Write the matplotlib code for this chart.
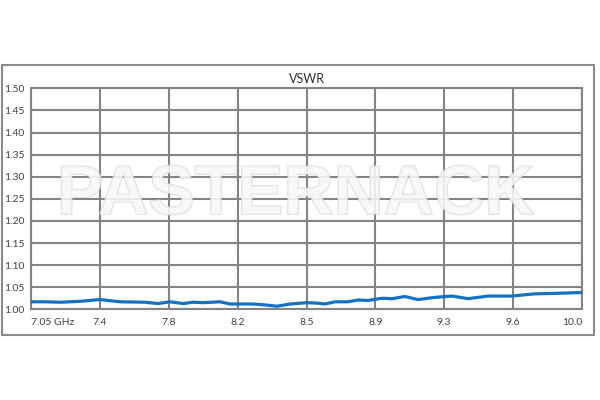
import numpy as np
import matplotlib
matplotlib.use("Agg")
import matplotlib.pyplot as plt
import matplotlib.patheffects as pe
from matplotlib.patches import Rectangle

# frequency (GHz) and VSWR
freq = [7.05, 7.125, 7.205, 7.312, 7.419, 7.527, 7.66, 7.73, 7.794, 7.864,
        7.917, 7.971, 8.062, 8.115, 8.239, 8.30, 8.367, 8.437, 8.528, 8.581,
        8.624, 8.678, 8.747, 8.801, 8.854, 8.929, 8.983, 9.052, 9.122, 9.213,
        9.304, 9.39, 9.497, 9.625, 9.748, 9.855, 10.0]
vswr = [1.017, 1.017, 1.016, 1.018, 1.022, 1.017, 1.016, 1.013, 1.017, 1.013,
        1.016, 1.015, 1.017, 1.012, 1.012, 1.010, 1.007, 1.012, 1.015, 1.014,
        1.012, 1.017, 1.017, 1.021, 1.020, 1.025, 1.024, 1.029, 1.022, 1.027,
        1.030, 1.024, 1.030, 1.030, 1.035, 1.036, 1.038]

x_labels = ["7.05 GHz", "7.4", "7.8", "8.2", "8.5", "8.9", "9.3", "9.6", "10.0"]
y_ticks = [1.00, 1.05, 1.10, 1.15, 1.20, 1.25, 1.30, 1.35, 1.40, 1.45, 1.50]

f_min, f_max = 7.05, 10.0
grid_col = "#848484"
txt_col = "#404040"

plt.rcParams["font.family"] = ["Lato", "DejaVu Sans"]

fig = plt.figure(figsize=(6, 4), dpi=100)
fig.patches.append(Rectangle((2 / 600, 1 - 335 / 400), 592 / 600, 270 / 400,
                             transform=fig.transFigure, fill=False,
                             edgecolor="#8a8a8a", linewidth=1.5))

ax = fig.add_axes([31 / 600, 1 - 309.3 / 400, 551 / 600, 221 / 400])
ax.plot(freq, vswr, color="#1372c4", linewidth=2.3, solid_joinstyle="round",
        solid_capstyle="round", zorder=3)

x_ticks = np.linspace(f_min, f_max, len(x_labels))
ax.set_xlim(f_min, f_max)
ax.set_ylim(1.0, 1.5)
ax.set_xticks(x_ticks)
ax.set_xticklabels(x_labels)
ax.set_yticks(y_ticks)
ax.set_yticklabels(["%.2f" % v for v in y_ticks])
ax.grid(True, color=grid_col, linewidth=1.5)
ax.set_axisbelow(True)
for s in ax.spines.values():
    s.set_color(grid_col)
    s.set_linewidth(1.5)

ax.tick_params(axis="both", length=0, labelsize=7.5, labelcolor=txt_col)
ax.tick_params(axis="x", pad=6)
ax.tick_params(axis="y", pad=19)
for t in ax.get_yticklabels():
    t.set_horizontalalignment("left")
ax.get_xticklabels()[0].set_horizontalalignment("left")
ax.get_xticklabels()[-1].set_horizontalalignment("right")

ax.set_title("VSWR", fontsize=9, color="#303030", pad=4)

fig.text(0.493, 1 - 196 / 400, "PASTERNACK", family="Liberation Sans",
         fontweight="bold", fontsize=50, color="#f8f8f8", alpha=0.65,
         ha="center", va="center", zorder=5,
         path_effects=[pe.withStroke(linewidth=1.3, foreground="#d2d2d2")])

fig.savefig("out.png", dpi=100)
